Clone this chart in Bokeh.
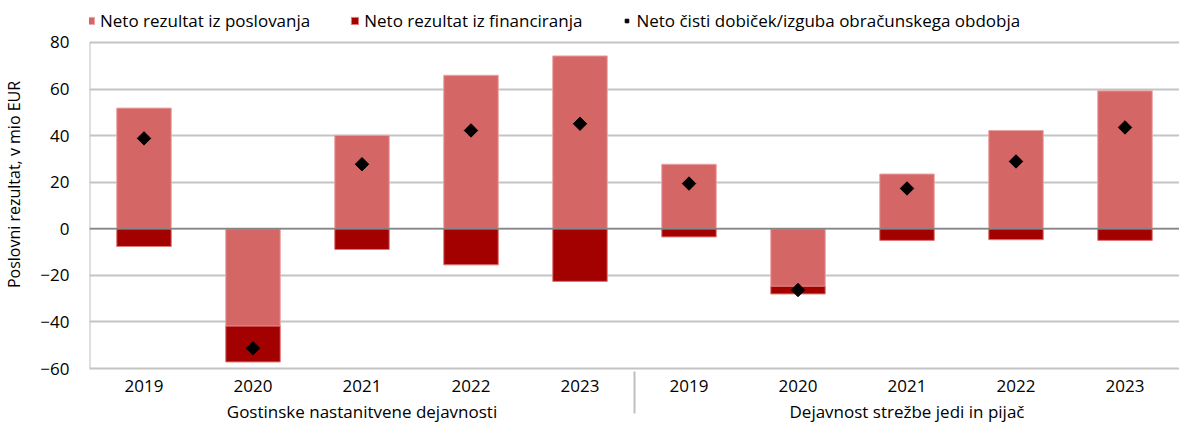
import math
from bokeh.plotting import figure
from bokeh.models import (FactorRange, FixedTicker, Legend, LegendItem,
                          ColumnDataSource, Range1d, Span)
from bokeh.embed import file_html
from bokeh.resources import INLINE

groups = ["Gostinske nastanitvene dejavnosti", "Dejavnost strežbe jedi in pijač"]
years = ["2019", "2020", "2021", "2022", "2023"]
y_ticks = [-60, -40, -20, 0, 20, 40, 60, 80]

# Neto rezultat iz poslovanja
poslovanje = [51.8, -41.8, 40.1, 65.9, 74.2, 27.7, -24.7, 23.5, 42.2, 59.2]
# Neto rezultat iz financiranja
financiranje = [-7.6, -15.4, -8.9, -15.5, -22.6, -3.5, -3.3, -5.0, -4.7, -5.0]
# Neto čisti dobiček/izguba obračunskega obdobja
neto = [38.8, -51.3, 27.7, 42.2, 45.1, 19.4, -26.3, 17.3, 28.9, 43.5]

factors = [(g, y) for g in groups for y in years]
fin_base = [min(p_, 0) for p_ in poslovanje]
fin_end = [b + f for b, f in zip(fin_base, financiranje)]

src = ColumnDataSource(dict(x=factors, pos=poslovanje, fb=fin_base, fe=fin_end, neto=neto))

FONT = "Open Sans"
FS = "17px"

p = figure(x_range=FactorRange(*factors, factor_padding=0, group_padding=0, range_padding=0),
           y_range=Range1d(-60, 98), width=1179, height=425,
           output_backend="svg", toolbar_location=None,
           min_border_left=81, min_border_right=0, min_border_top=0, min_border_bottom=52)
p.outline_line_color = None
p.background_fill_color = "white"

r1 = p.vbar(x="x", top="pos", bottom=0, width=0.5, source=src,
            fill_color="#D46666", line_color="#EBA5A5", line_width=1)
r2 = p.vbar(x="x", top="fb", bottom="fe", width=0.5, source=src,
            fill_color="#A30000", line_color="#E07878", line_width=1)
r3 = p.scatter(x="x", y="neto", source=src, marker="square", angle=math.pi / 4,
               size=9.5, fill_color="black", line_color="black")

p.add_layout(Span(location=0, dimension="width", line_color="#858585", line_width=1.5))
# left value-axis line, only over the tick span
p.segment(x0=[0], x1=[0], y0=[y_ticks[0]], y1=[y_ticks[-1]], line_color="#BFBFBF", line_width=2)

# y axis
p.yaxis.ticker = FixedTicker(ticks=y_ticks)
p.yaxis.axis_label = "Poslovni rezultat, v mio EUR"
p.yaxis.axis_label_text_font = FONT
p.yaxis.axis_label_text_font_size = "16px"
p.yaxis.axis_label_text_font_style = "normal"
p.yaxis.axis_label_text_color = "black"
p.yaxis.axis_label_standoff = 12
p.yaxis.major_label_text_font = FONT
p.yaxis.major_label_text_font_size = FS
p.yaxis.major_label_text_color = "black"
p.yaxis.major_label_standoff = 14
p.yaxis.axis_line_color = None
p.yaxis.major_tick_line_color = None
p.yaxis.minor_tick_line_color = None

p.ygrid.ticker = FixedTicker(ticks=y_ticks)
p.ygrid.grid_line_color = "#C4C4C4"
p.ygrid.grid_line_width = 2
p.xgrid.grid_line_color = None

# x axis
p.xaxis.axis_line_color = "#C4C4C4"
p.xaxis.axis_line_width = 2
p.xaxis.major_tick_line_color = None
p.xaxis.minor_tick_line_color = None
p.xaxis.major_label_text_font = FONT
p.xaxis.major_label_text_font_size = FS
p.xaxis.major_label_text_line_height = 1.0
p.xaxis.major_label_text_color = "black"
p.xaxis.major_label_standoff = 5
p.xaxis.group_text_font = FONT
p.xaxis.group_text_font_size = FS
p.xaxis.group_text_line_height = 1.0
p.xaxis.group_text_font_style = "normal"
p.xaxis.group_text_color = "black"
p.xaxis.group_label_orientation = "horizontal"
p.xaxis.separator_line_color = "#BFBFBF"
p.xaxis.separator_line_width = 2

legend = Legend(items=[
    LegendItem(label="Neto rezultat iz poslovanja", renderers=[r1]),
    LegendItem(label="Neto rezultat iz financiranja", renderers=[r2]),
    LegendItem(label="Neto čisti dobiček/izguba obračunskega obdobja", renderers=[r3]),
], orientation="horizontal", location=(-3, 336), spacing=40,
    glyph_width=9, glyph_height=9, label_standoff=5, padding=0, margin=0,
    label_text_font=FONT, label_text_font_size=FS, label_text_color="black",
    border_line_color=None, background_fill_alpha=0)
p.add_layout(legend)

open("out.html", "w").write(file_html(p, INLINE))
